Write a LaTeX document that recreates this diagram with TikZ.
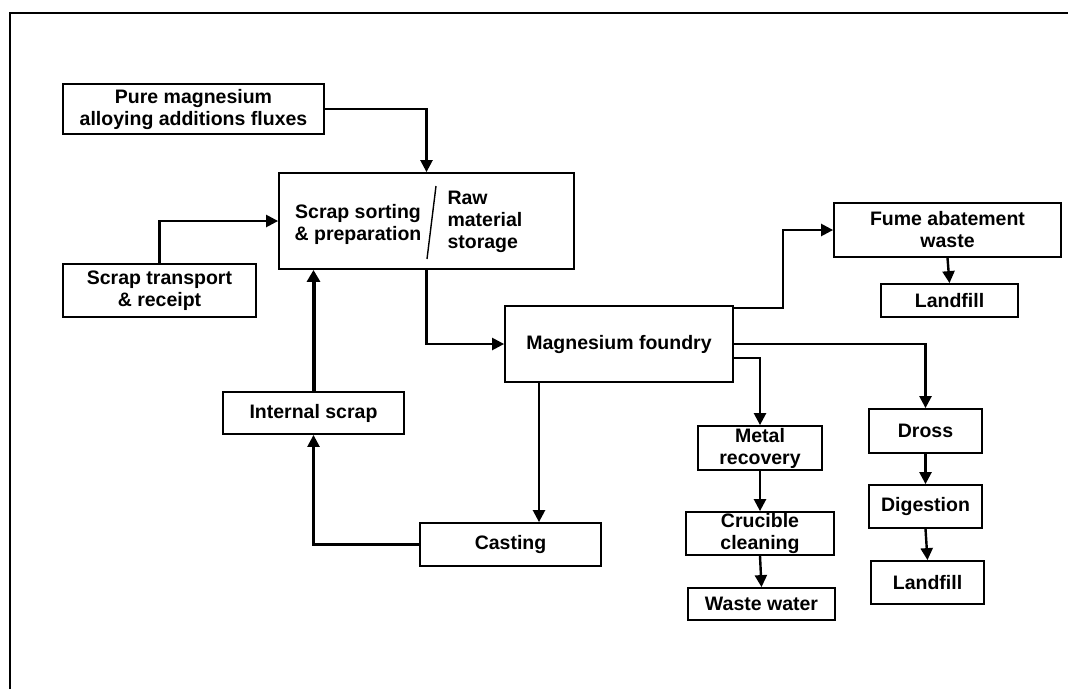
\documentclass[tikz,border=0pt]{standalone}
\usepackage{fontspec}
\setmainfont{Liberation Sans}
\usetikzlibrary{arrows.meta}
\begin{document}
\begin{tikzpicture}[x=1pt,y=-1pt,
  every node/.style={font=\fontsize{19.5}{22}\selectfont\bfseries},
  box/.style={draw, line width=1.8pt, inner sep=0pt, align=center},
  arr/.style={line width=2.4pt, -{Triangle[length=12pt,width=12pt]}},
  arrthick/.style={line width=4pt, -{Triangle[length=12pt,width=13pt]}}]
\useasboundingbox (0,0) rectangle (1068,689);

% outer frame (top and left edges)
\draw[line width=2.6pt] (10,689) -- (10,13) -- (1068,13);

% process boxes
\node[box, minimum width=261pt, minimum height=50pt] (pure) at (193.5,109)
  {Pure magnesium\\alloying additions fluxes};
\node[box, minimum width=295pt, minimum height=96pt] (sort) at (426.5,221) {};
\node[align=center] (sortL) at (358,224) {Scrap sorting\\\& preparation};
\node[align=left, anchor=west] (sortR) at (444,222) {Raw\\material\\storage};
\coordinate (slA) at (436,186);
\coordinate (slB) at (427,259);
\draw[line width=1.4pt] (slA) -- (slB);

\node[box, minimum width=193pt, minimum height=53pt] (trans) at (159.5,290.5)
  {Scrap transport\\\& receipt};
\node[box, minimum width=181pt, minimum height=42pt] (internal) at (313.5,413) {Internal scrap};
\node[box, minimum width=181pt, minimum height=43pt] (casting) at (510.5,544.5) {Casting};
\node[box, minimum width=228pt, minimum height=76pt] (foundry) at (619,344) {Magnesium foundry};
\node[box, minimum width=227pt, minimum height=54pt] (fume) at (947.5,230) {Fume abatement\\waste};
\node[box, minimum width=137pt, minimum height=33pt] (land1) at (949.5,300.5) {Landfill};
\node[box, minimum width=124pt, minimum height=44pt] (metal) at (760,448) {Metal\\recovery};
\node[box, minimum width=148pt, minimum height=43pt] (crucible) at (760,533.5) {Crucible\\cleaning};
\node[box, minimum width=147pt, minimum height=32pt] (waste) at (761.5,604) {Waste water};
\node[box, minimum width=113pt, minimum height=44pt] (dross) at (925.5,431) {Dross};
\node[box, minimum width=113pt, minimum height=43pt] (digest) at (925.5,506.5) {Digestion};
\node[box, minimum width=113pt, minimum height=43pt] (land2) at (927.5,582.5) {Landfill};

% bend and branch points
\coordinate (castX) at (539,0);
\coordinate (fumeOut) at (733,308);
\coordinate (fumeBend) at (783,308);
\coordinate (metalOut) at (733,358);

% connectors
\draw[arr] (pure.east) -| (sort.north);
\draw[arr] (trans.north) |- (sort.west);
\draw[arrthick] (internal.north) -- (internal.north |- sort.south);
\draw[arr] (casting.west) -| (internal.south);
\draw[arr] (sort.south) |- (foundry.west);
\draw[arr] (foundry.south -| castX) -- (casting.north -| castX);
\draw[arr] (fumeOut) -- (fumeBend) |- (fume.west);
\draw[arr] (foundry.east) -| (dross.north);
\draw[arr] (metalOut) -| (metal.north);
\draw[arr] (fume.south) -- (land1.north);
\draw[arr] (metal.south) -- (crucible.north);
\draw[arr] (crucible.south) -- (waste.north);
\draw[arr] (dross.south) -- (digest.north);
\draw[arr] (digest.south) -- (land2.north);
\end{tikzpicture}
\end{document}
